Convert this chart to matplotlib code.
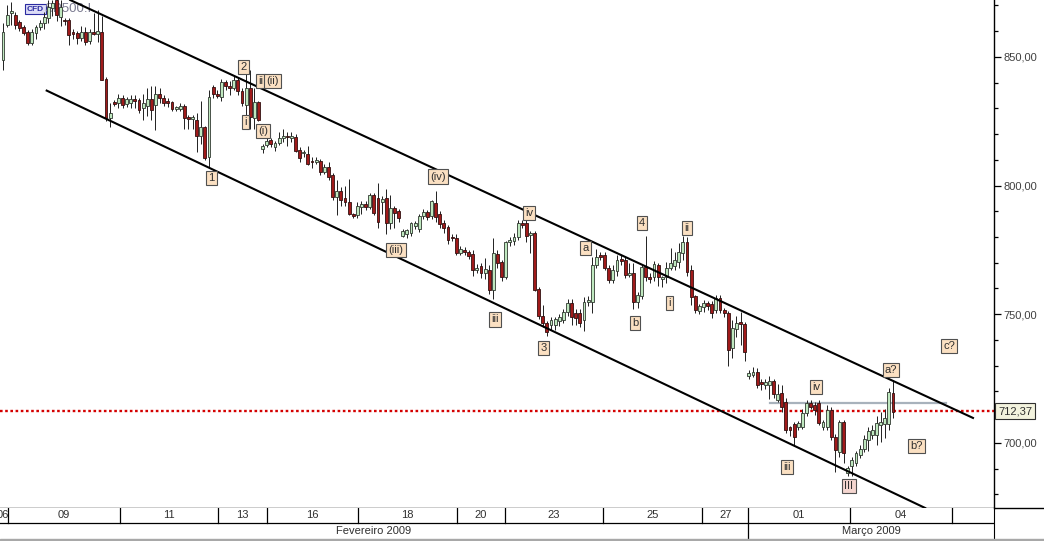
"""
SP500 CFD hourly candles, Feb - Mar 2009, with Elliott wave count and
down-trend channel (re-drawn chart-platform screenshot).
"""

import numpy as np
import matplotlib.pyplot as plt
from matplotlib.lines import Line2D
from matplotlib.patches import Rectangle
from matplotlib.ticker import MultipleLocator, FuncFormatter

plt.rcParams["font.family"] = ["Liberation Sans", "DejaVu Sans"]

# --- candle data (one row per bar) -----------------------------------------
opens = [
    848.8, 862.4, 867.2, 866.3, 863.5, 861.6, 859.7, 855.4, 859.3, 861.6,
    863.2, 865.1, 869.0, 872.0, 865.5, 864.0, 864.3, 859.3, 859.3, 857.3,
    859.7, 856.0, 859.3, 859.0, 859.7, 841.4, 826.2, 832.5, 832.1, 834.0,
    831.7, 832.0, 833.2, 833.3, 830.1, 831.0, 833.6, 831.3, 835.6, 834.0,
    833.0, 832.5, 829.9, 829.8, 830.9, 826.6, 825.8, 825.5, 819.3, 822.8,
    811.1, 838.3, 835.6, 834.4, 840.2, 838.7, 837.9, 841.0, 836.8, 831.3,
    837.9, 826.2, 832.5, 814.2, 815.8, 817.7, 815.0, 816.6, 818.5, 819.0,
    818.5, 819.0, 813.8, 812.6, 812.2, 809.5, 809.2, 809.5, 805.3, 807.2,
    804.1, 795.6, 797.9, 795.2, 793.6, 788.8, 788.6, 791.7, 792.9, 791.7,
    796.3, 795.2, 793.7, 795.2, 785.5, 791.3, 790.1, 780.4, 781.3, 781.5,
    784.3, 783.1, 788.2, 789.7, 788.2, 793.2, 788.9, 785.5, 783.9, 780.0,
    779.6, 773.8, 775.0, 774.2, 773.4, 767.2, 768.8, 766.0, 767.2, 759.4,
    773.4, 770.3, 764.5, 778.1, 778.5, 780.0, 785.5, 785.5, 780.8, 781.6,
    759.8, 749.3, 746.6, 745.8, 745.8, 747.4, 747.8, 750.9, 754.4, 750.5,
    750.5, 747.8, 754.8, 754.8, 769.1, 772.7, 773.1, 768.0, 763.4, 766.8,
    771.5, 771.1, 765.3, 766.1, 754.8, 757.1, 768.4, 764.5, 764.5, 769.1,
    763.5, 764.5, 768.0, 768.8, 770.3, 773.8, 778.1, 767.2, 757.1, 751.3,
    752.9, 754.4, 754.0, 751.7, 756.3, 751.7, 750.5, 736.9, 744.3, 747.0,
    746.2, 725.8, 726.2, 727.5, 723.7, 722.5, 722.5, 724.1, 716.8, 719.4,
    715.9, 706.2, 707.4, 706.2, 706.2, 711.7, 715.6, 714.8, 715.6, 706.2,
    706.2, 712.9, 702.3, 696.5, 708.2, 688.3, 691.0, 692.2, 695.3, 697.7,
    701.2, 703.1, 703.1, 707.0, 707.4, 707.4, 719.4,
]
highs = [
    863.2, 870.2, 871.3, 867.5, 864.5, 862.5, 860.5, 861.0, 862.5, 864.5,
    867.5, 872.0, 872.0, 872.5, 872.0, 865.0, 865.0, 861.0, 860.0, 862.0,
    861.5, 861.0, 867.0, 868.2, 866.0, 842.0, 832.1, 833.3, 835.6, 835.0,
    834.5, 835.0, 835.0, 834.0, 835.6, 838.0, 838.7, 838.7, 838.0, 835.0,
    834.0, 833.0, 831.0, 832.0, 831.5, 827.5, 827.5, 828.0, 833.0, 823.0,
    837.0, 839.0, 837.0, 841.5, 841.0, 840.6, 842.6, 842.0, 838.0, 843.6,
    845.0, 837.9, 833.0, 816.0, 818.5, 818.5, 817.5, 820.7, 822.0, 821.0,
    821.0, 820.0, 815.0, 814.0, 815.5, 811.0, 811.0, 810.5, 808.5, 809.0,
    805.0, 802.0, 799.5, 800.0, 802.5, 789.5, 793.5, 794.0, 794.0, 797.0,
    797.0, 801.0, 796.0, 798.7, 796.3, 792.0, 791.0, 783.0, 783.0, 786.0,
    786.3, 789.0, 791.0, 790.5, 794.5, 797.9, 790.0, 786.5, 784.5, 781.0,
    781.0, 776.5, 776.0, 775.0, 775.0, 769.5, 770.0, 772.0, 769.0, 779.6,
    775.0, 771.0, 778.5, 780.0, 781.5, 786.5, 786.5, 786.5, 782.5, 782.5,
    760.5, 753.6, 747.5, 749.0, 749.0, 750.0, 752.0, 756.0, 756.0, 752.0,
    752.0, 756.5, 757.0, 772.4, 775.5, 774.0, 774.0, 769.0, 769.0, 773.0,
    773.0, 772.5, 770.0, 770.0, 758.5, 769.0, 780.4, 766.0, 770.5, 770.0,
    765.0, 770.3, 775.9, 774.0, 777.6, 780.4, 780.0, 769.0, 757.5, 754.0,
    755.5, 755.0, 755.0, 757.5, 757.5, 752.5, 751.3, 747.8, 749.3, 751.0,
    747.0, 728.5, 729.5, 729.0, 725.0, 725.0, 726.0, 725.0, 722.9, 722.5,
    717.5, 706.5, 708.0, 708.5, 713.0, 716.8, 716.5, 716.0, 716.5, 709.0,
    714.8, 714.0, 703.6, 709.0, 709.0, 691.0, 694.5, 697.0, 699.0, 703.0,
    706.0, 707.0, 710.5, 712.0, 713.0, 721.5, 724.5,
]
lows = [
    844.9, 861.6, 862.4, 861.0, 860.0, 858.5, 854.8, 854.8, 857.0, 860.5,
    861.0, 863.0, 866.0, 864.0, 862.0, 862.5, 854.6, 857.0, 855.0, 856.0,
    854.6, 855.0, 858.5, 855.8, 841.0, 825.0, 822.8, 831.0, 830.0, 830.0,
    830.5, 830.0, 830.0, 828.0, 825.5, 827.0, 825.5, 821.6, 832.0, 831.0,
    830.5, 829.0, 829.0, 829.0, 822.0, 822.0, 822.0, 813.0, 816.0, 810.0,
    807.0, 834.0, 834.0, 833.0, 837.0, 835.0, 837.0, 835.2, 831.0, 826.0,
    822.0, 822.0, 825.0, 812.5, 815.0, 815.0, 813.5, 815.8, 817.0, 815.5,
    817.0, 813.0, 809.0, 811.0, 808.0, 807.0, 808.5, 804.0, 804.5, 802.0,
    794.5, 788.5, 792.0, 792.0, 788.5, 787.5, 787.5, 789.0, 790.5, 791.0,
    788.5, 783.4, 789.0, 781.0, 783.0, 783.5, 786.0, 780.0, 779.5, 780.5,
    783.0, 782.0, 787.0, 786.5, 787.0, 786.0, 783.5, 781.5, 777.3, 778.5,
    773.0, 773.0, 773.0, 771.5, 765.0, 766.0, 764.0, 763.5, 758.0, 756.0,
    768.0, 763.0, 763.5, 776.5, 777.0, 779.0, 783.5, 778.0, 773.8, 759.0,
    748.0, 745.0, 741.5, 744.0, 744.0, 745.5, 746.6, 749.5, 746.0, 746.0,
    745.0, 743.5, 753.0, 750.5, 768.0, 771.0, 767.0, 762.0, 762.0, 765.0,
    769.0, 764.0, 764.5, 752.0, 752.5, 756.0, 763.0, 762.0, 763.0, 761.0,
    760.5, 762.0, 767.0, 767.0, 768.0, 771.0, 765.0, 753.7, 750.5, 750.0,
    751.0, 751.5, 748.6, 750.5, 750.5, 749.0, 730.0, 733.0, 741.0, 738.0,
    732.0, 725.0, 725.5, 721.5, 720.5, 721.0, 717.0, 717.5, 716.0, 712.0,
    704.0, 702.5, 698.8, 705.0, 705.5, 710.5, 713.0, 711.0, 707.0, 705.0,
    705.0, 701.0, 688.8, 694.5, 692.0, 687.0, 687.0, 691.0, 694.0, 696.5,
    697.0, 701.5, 699.0, 700.5, 702.0, 705.0, 709.5,
]
closes = [
    859.7, 866.3, 867.6, 862.4, 861.2, 859.3, 855.4, 859.7, 861.6, 863.2,
    865.5, 869.4, 871.0, 866.3, 869.5, 863.8, 858.5, 859.0, 857.3, 859.7,
    855.8, 859.7, 859.0, 860.0, 841.0, 826.2, 828.2, 831.7, 834.0, 831.3,
    833.6, 833.6, 833.0, 829.4, 832.1, 833.6, 829.5, 835.6, 834.0, 832.1,
    832.0, 829.8, 830.1, 831.0, 826.2, 825.8, 826.6, 819.3, 822.8, 810.7,
    834.4, 835.6, 834.8, 840.2, 838.7, 837.9, 841.0, 836.8, 832.1, 837.9,
    826.6, 832.5, 825.5, 815.4, 817.4, 816.2, 816.6, 818.5, 819.3, 818.8,
    819.3, 813.4, 810.7, 812.9, 808.4, 809.1, 810.0, 805.3, 807.2, 803.3,
    795.6, 797.9, 794.4, 793.6, 788.9, 788.2, 792.1, 792.9, 791.7, 796.3,
    789.3, 785.9, 794.6, 785.5, 791.3, 789.3, 787.4, 782.4, 782.6, 785.5,
    785.5, 788.2, 789.7, 787.8, 794.0, 787.8, 785.1, 783.5, 778.9, 779.6,
    773.8, 775.3, 774.1, 772.7, 767.2, 767.8, 766.0, 767.6, 759.4, 773.8,
    769.9, 764.5, 778.1, 778.9, 780.0, 785.5, 784.7, 780.4, 781.6, 759.4,
    749.3, 746.6, 743.1, 747.8, 748.2, 748.9, 750.9, 754.4, 748.9, 748.6,
    746.6, 754.8, 755.6, 769.1, 772.3, 772.3, 768.0, 763.4, 767.2, 771.1,
    770.7, 765.3, 766.1, 754.8, 757.5, 768.4, 764.5, 763.7, 769.5, 764.5,
    764.3, 768.0, 770.0, 771.1, 774.2, 778.1, 766.4, 756.7, 751.7, 753.2,
    754.4, 753.2, 750.5, 756.3, 751.7, 750.5, 736.1, 744.7, 746.6, 746.2,
    735.3, 727.3, 727.7, 722.5, 722.9, 723.7, 724.1, 719.0, 719.0, 714.0,
    705.0, 705.0, 702.3, 707.8, 711.7, 715.6, 714.0, 712.8, 707.8, 708.2,
    712.9, 702.3, 697.3, 708.2, 696.1, 690.2, 693.4, 696.1, 697.7, 701.5,
    704.6, 705.0, 707.8, 708.2, 709.7, 719.8, 712.1,
]

# date strip: bar index where each day block starts, its label
day_starts = [1.2, 28.4, 52.2, 64.1, 86.2, 110.2, 121.8, 145.6, 169.7, 180.8,
              205.6, 230.3]
day_labels = ["06", "09", "11", "13", "16", "18", "20", "23", "25", "27",
              "01", "04", ""]
month_start = 180.8
month_labels = ["Fevereiro 2009", "Março 2009"]

last_price = 712.37
resistance_level = 715.65

# channel lines: (bar index, price) endpoints
upper_channel = [(16.3, 872.1), (235.4, 709.7)]
lower_channel = [(10.6, 836.9), (223.8, 674.7)]

# Elliott wave count labels: (text, bar index, price)
wave_labels = [
    ("1", 50.6, 802.9), ("2", 58.3, 846.1), ("i", 58.9, 824.7),
    ("ii", 62.5, 840.6), ("(i)", 63.1, 821.2), ("(ii)", 65.5, 840.6),
    ("(iii)", 95.4, 775.0), ("(iv)", 105.5, 803.5), ("iii", 119.5, 748.0),
    ("iv", 127.7, 789.3), ("3", 131.1, 736.9), ("a", 141.3, 775.8),
    ("b", 153.4, 746.6), ("4", 155.1, 785.5), ("i", 161.7, 754.4),
    ("ii", 166.0, 783.5), ("iii", 190.3, 690.7), ("iv", 197.3, 721.8),
    ("III", 205.3, 683.3), ("a?", 215.5, 728.4), ("b?", 221.6, 698.8),
    ("c?", 229.6, 737.7),
]

X_MIN, X_MAX = -0.73, 240.5
Y_MIN, Y_MAX = 674.7, 872.1


def price_fmt(v, _pos):
    return f"{v:.2f}".replace(".", ",")


def draw_candles(ax):
    o = np.array(opens)
    h = np.array(highs)
    l = np.array(lows)
    c = np.array(closes)
    idx = np.arange(len(o))
    up = c >= o

    ax.vlines(idx, l, h, color="#202020", linewidth=0.7, zorder=3)
    bottom = np.minimum(o, c)
    height = np.maximum(np.abs(c - o), 0.6)
    ax.bar(idx[up], height[up], bottom=bottom[up], width=0.7,
           color="#bfe8bf", edgecolor="#303830", linewidth=0.6, zorder=4)
    ax.bar(idx[~up], height[~up], bottom=bottom[~up], width=0.7,
           color="#a01a1a", edgecolor="#301010", linewidth=0.6, zorder=4)


def main():
    fig = plt.figure(figsize=(10.44, 5.41), dpi=100)
    fig.patch.set_facecolor("white")

    ax = fig.add_axes([0, 33 / 541, 994 / 1044, 508 / 541])
    ax.set_xlim(X_MIN, X_MAX)
    ax.set_ylim(Y_MIN, Y_MAX)
    ax.set_facecolor("white")

    for side in ("top", "left"):
        ax.spines[side].set_visible(False)
    ax.spines["right"].set_color("black")
    ax.spines["bottom"].set_color("black")
    ax.spines["right"].set_linewidth(1.0)
    ax.spines["bottom"].set_linewidth(1.0)

    ax.set_xticks([])
    ax.yaxis.tick_right()
    ax.yaxis.set_major_locator(MultipleLocator(50))
    ax.yaxis.set_minor_locator(MultipleLocator(10))
    ax.yaxis.set_major_formatter(FuncFormatter(price_fmt))
    ax.tick_params(axis="y", which="major", direction="out", length=5,
                   width=0.9, labelsize=8, labelcolor="#404040", pad=2)
    ax.tick_params(axis="y", which="minor", direction="out", length=3,
                   width=0.9)

    # symbol tag
    ax.text(0.027, 0.982, "CFD", transform=ax.transAxes, fontsize=6,
            fontweight="bold", color="#2a2aa0", ha="left", va="center",
            zorder=1, bbox=dict(boxstyle="square,pad=0.2", fc="#dcdcf6",
                                ec="#2a2aa0", lw=0.8))
    ax.text(0.045, 0.982, "SP500.I", transform=ax.transAxes, fontsize=9.5,
            color="#7a7a90", ha="left", va="center", zorder=1)

    # channel
    for line in (upper_channel, lower_channel):
        (x0, y0), (x1, y1) = line
        ax.plot([x0, x1], [y0, y1], color="black", linewidth=1.5, zorder=5)

    # last price + resistance
    ax.axhline(last_price, color="#d40000", linewidth=1.7,
               linestyle=(0, (1.1, 1.1)), zorder=2)
    ax.plot([186.2, 228.9], [resistance_level, resistance_level],
            color="#a8b2bc", linewidth=1.6, zorder=2)

    draw_candles(ax)

    for text, xi, yp in wave_labels:
        face = "#f5d6d0" if text == "III" else "#fbe0c2"
        ax.text(xi, yp, text, fontsize=8, color="#303030", ha="center",
                va="center", zorder=6,
                bbox=dict(boxstyle="square,pad=0.2", fc=face, ec="#505050",
                          lw=0.8))

    ax.text(1.004, last_price, price_fmt(last_price, None),
            transform=ax.get_yaxis_transform(), fontsize=8, color="#303030",
            ha="left", va="center", clip_on=False, zorder=7,
            bbox=dict(boxstyle="square,pad=0.25", fc="#f3f3de", ec="#303030",
                      lw=0.8))

    # date strip
    axd = fig.add_axes([0, 1 / 541, 994 / 1044, 32 / 541])
    axd.set_xlim(X_MIN, X_MAX)
    axd.set_ylim(0, 1)
    axd.set_xticks([])
    axd.set_yticks([])
    for side in ("top", "left", "bottom"):
        axd.spines[side].set_visible(False)
    axd.spines["right"].set_color("black")

    split = 0.53
    axd.axhline(split, color="black", linewidth=0.9)
    bounds = [X_MIN - 3] + day_starts + [X_MAX]
    for xs in day_starts:
        axd.plot([xs, xs], [split, 1], color="black", linewidth=0.9)
    for i, lab in enumerate(day_labels):
        centre = (bounds[i] + bounds[i + 1]) / 2
        if i == 0:
            centre = 0.0
        axd.text(centre, 0.77, lab, fontsize=8, color="#303030",
                 ha="center", va="center", clip_on=True)
    axd.plot([month_start, month_start], [0, split], color="black",
             linewidth=0.9)
    axd.text((X_MIN + month_start) / 2, 0.27, month_labels[0], fontsize=8,
             color="#303030", ha="center", va="center")
    axd.text((month_start + X_MAX) / 2, 0.27, month_labels[1], fontsize=8,
             color="#303030", ha="center", va="center")

    # bottom axis line runs on past the price scale
    fig.add_artist(Line2D([994 / 1044, 1], [33 / 541, 33 / 541],
                          color="black", linewidth=1.0))
    fig.add_artist(Rectangle((0, 0), 1, 2 / 541, transform=fig.transFigure,
                             color="#a8a8a8"))

    fig.savefig("out.png", dpi=100, facecolor=fig.get_facecolor())


if __name__ == "__main__":
    main()
